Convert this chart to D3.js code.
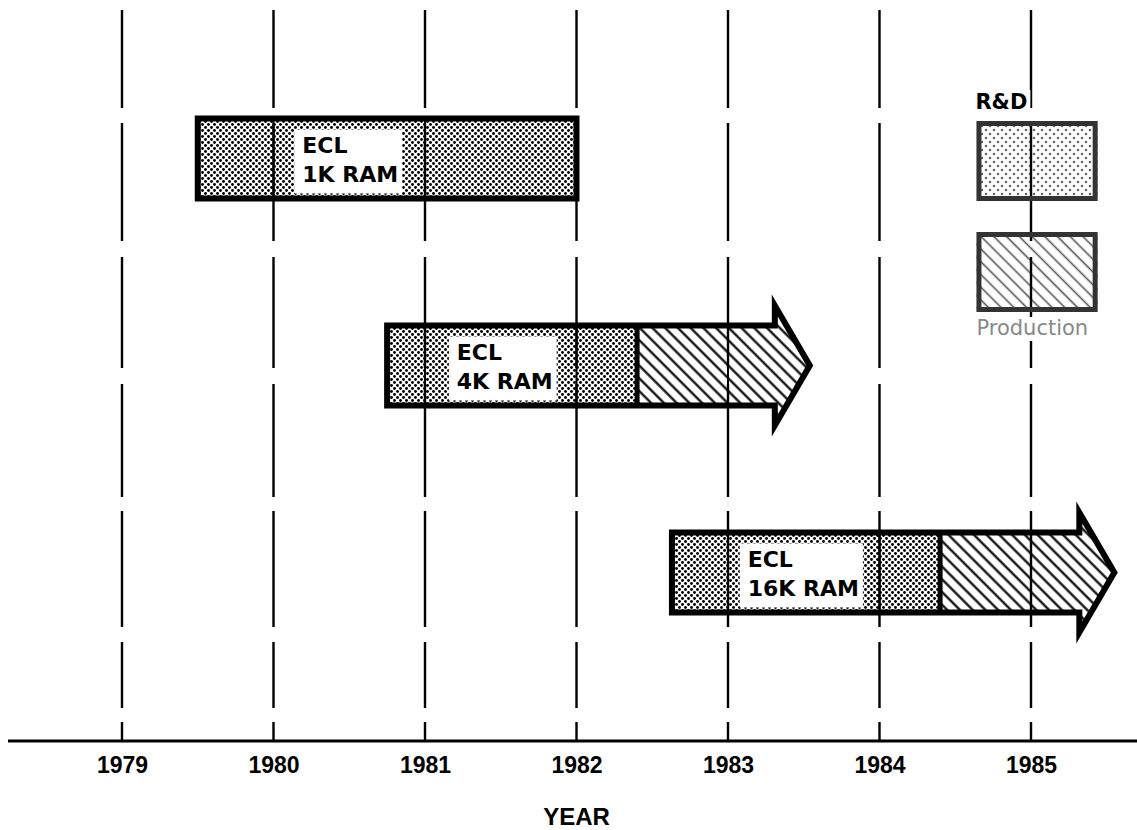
<!DOCTYPE html>
<html>
<head>
<meta charset="utf-8">
<script src="https://cdn.jsdelivr.net/npm/d3@7"></script>
<style>
  html, body { margin: 0; padding: 0; background: #fff; }
  svg { display: block; }
</style>
</head>
<body>
<svg id="chart" width="1137" height="830"></svg>
<script>
// ---- data ----
const years = [1979, 1980, 1981, 1982, 1983, 1984, 1985];
const chipRows = ["1K", "4K", "16K"];
const labelLine1 = ["ECL", "ECL", "ECL"];
const labelLine2 = ["1K RAM", "4K RAM", "16K RAM"];
const rdStart = [1979.5, 1980.75, 1982.63];
const rdEnd = [1982.0, 1982.4, 1984.4];
const prodEnd = [null, 1983.54, 1985.55];
const labelAt = [1980.19, 1981.21, 1983.13];
const legendItems = ["R&D", "Production"];
const axisTitle = "YEAR";

// ---- layout ----
const W = 1137, H = 830;
const axisY = 741;
const svg = d3.select("#chart");
const x = d3.scaleLinear().domain([1979, 1985]).range([122, 1031]);
const y = d3.scalePoint().domain(chipRows).range([158.5, 572.5]);
const barH = 80, headLen = 35, headOver = 20;

// ---- patterns ----
const defs = svg.append("defs");
const stip = defs.append("pattern").attr("id", "stip").attr("patternUnits", "userSpaceOnUse")
  .attr("width", 6).attr("height", 6);
stip.append("rect").attr("width", 6).attr("height", 6).attr("fill", "#fff");
stip.append("circle").attr("cx", 1.5).attr("cy", 1.5).attr("r", 1.45).attr("fill", "#000");
stip.append("circle").attr("cx", 4.5).attr("cy", 4.5).attr("r", 1.45).attr("fill", "#000");

const hatch = defs.append("pattern").attr("id", "hatch").attr("patternUnits", "userSpaceOnUse")
  .attr("width", 9).attr("height", 9).attr("patternTransform", "rotate(-45)");
hatch.append("rect").attr("width", 9).attr("height", 9).attr("fill", "#fff");
hatch.append("line").attr("x1", 4.5).attr("y1", -1).attr("x2", 4.5).attr("y2", 10)
  .attr("stroke", "#000").attr("stroke-width", 2.2);

const stipL = defs.append("pattern").attr("id", "stipL").attr("patternUnits", "userSpaceOnUse")
  .attr("width", 8).attr("height", 8);
stipL.append("rect").attr("width", 8).attr("height", 8).attr("fill", "#fff");
stipL.append("circle").attr("cx", 2).attr("cy", 2).attr("r", 1.3).attr("fill", "#666");
stipL.append("circle").attr("cx", 6).attr("cy", 6).attr("r", 1.3).attr("fill", "#666");

const hatchL = defs.append("pattern").attr("id", "hatchL").attr("patternUnits", "userSpaceOnUse")
  .attr("width", 9).attr("height", 9).attr("patternTransform", "rotate(-45)");
hatchL.append("rect").attr("width", 9).attr("height", 9).attr("fill", "#fff");
hatchL.append("line").attr("x1", 4.5).attr("y1", -1).attr("x2", 4.5).attr("y2", 10)
  .attr("stroke", "#555").attr("stroke-width", 1.6);

// ---- bars (fills) ----
const rows = chipRows.map((c, i) => ({
  key: c, s: rdStart[i], d: rdEnd[i], e: prodEnd[i],
  l1: labelLine1[i], l2: labelLine2[i], la: labelAt[i]
}));

function outline(r) {
  const cy = y(r.key), t = cy - barH / 2, b = cy + barH / 2;
  const x0 = x(r.s);
  if (r.e == null) {
    const x1 = x(r.d);
    return `M${x0},${t}L${x1},${t}L${x1},${b}L${x0},${b}Z`;
  }
  const xt = x(r.e), xh = xt - headLen;
  return `M${x0},${t}L${xh},${t}L${xh},${t - headOver}L${xt},${cy}L${xh},${b + headOver}L${xh},${b}L${x0},${b}Z`;
}
function prodShape(r) {
  const cy = y(r.key), t = cy - barH / 2, b = cy + barH / 2;
  const xd = x(r.d), xt = x(r.e), xh = xt - headLen;
  return `M${xd},${t}L${xh},${t}L${xh},${t - headOver}L${xt},${cy}L${xh},${b + headOver}L${xh},${b}L${xd},${b}Z`;
}

const gBars = svg.append("g");
gBars.selectAll("rect.rd").data(rows).join("rect").attr("class", "rd")
  .attr("x", r => x(r.s)).attr("y", r => y(r.key) - barH / 2)
  .attr("width", r => x(r.d) - x(r.s)).attr("height", barH)
  .attr("fill", "url(#stip)");
gBars.selectAll("path.prod").data(rows.filter(r => r.e != null)).join("path").attr("class", "prod")
  .attr("d", prodShape).attr("fill", "url(#hatch)");

// ---- legend boxes ----
const legX0 = 1984.64, legX1 = 1985.44;
const legBoxes = [{ t: 121, fill: "url(#stipL)" }, { t: 232, fill: "url(#hatchL)" }];
svg.append("g").selectAll("rect").data(legBoxes).join("rect")
  .attr("x", x(legX0)).attr("y", d => d.t + 2.5)
  .attr("width", x(legX1) - x(legX0)).attr("height", 75)
  .attr("fill", d => d.fill);

// ---- vertical grid lines (dashed, irregular breaks) ----
const dash = "98,15,118,16,111,16,113,14,116,15,66,14,19";
svg.append("g").selectAll("line").data(years).join("line")
  .attr("x1", d => x(d)).attr("x2", d => x(d))
  .attr("y1", 10).attr("y2", axisY)
  .attr("stroke", "#000").attr("stroke-width", 2.4)
  .attr("stroke-dasharray", dash);

// solid grid segments through the bars
const segs = [];
rows.forEach(r => {
  const end = r.e == null ? r.d : r.e;
  years.forEach(yr => { if (yr > r.s && yr < end) segs.push({ yr, key: r.key }); });
});
svg.append("g").selectAll("line").data(segs).join("line")
  .attr("x1", d => x(d.yr)).attr("x2", d => x(d.yr))
  .attr("y1", d => y(d.key) - barH / 2).attr("y2", d => y(d.key) + barH / 2)
  .attr("stroke", "#000").attr("stroke-width", 2);

// ---- bar outlines ----
svg.append("g").selectAll("path").data(rows).join("path")
  .attr("d", outline).attr("fill", "none")
  .attr("stroke", "#000").attr("stroke-width", 6).attr("stroke-linejoin", "miter");
svg.append("g").selectAll("line").data(rows.filter(r => r.e != null)).join("line")
  .attr("x1", r => x(r.d)).attr("x2", r => x(r.d))
  .attr("y1", r => y(r.key) - barH / 2).attr("y2", r => y(r.key) + barH / 2)
  .attr("stroke", "#000").attr("stroke-width", 5);

// ---- labels inside bars ----
const gLab = svg.append("g").attr("font-family", "'DejaVu Sans', sans-serif")
  .attr("font-weight", "bold").attr("font-size", 22).attr("fill", "#000");
rows.forEach(r => {
  const cy = y(r.key), tx = x(r.la);
  const grp = gLab.append("g");
  const bg = grp.append("rect").attr("fill", "#fff");
  const t1 = grp.append("text").attr("x", tx).attr("y", cy - 6).text(r.l1);
  const t2 = grp.append("text").attr("x", tx).attr("y", cy + 23).text(r.l2);
  const w = Math.max(t1.node().getComputedTextLength(), t2.node().getComputedTextLength());
  bg.attr("x", tx - 8).attr("y", cy - 29).attr("width", w + 12).attr("height", 64);
});

// ---- legend outlines and text ----
svg.append("g").selectAll("rect").data(legBoxes).join("rect")
  .attr("x", x(legX0) + 2.5).attr("y", d => d.t + 2.5)
  .attr("width", x(legX1) - x(legX0) - 5).attr("height", 75)
  .attr("fill", "none").attr("stroke", "#333").attr("stroke-width", 5);
const rdBg = svg.append("rect").attr("fill", "#fff");
const rdTxt = svg.append("text").attr("x", x(legX0) - 1).attr("y", 109)
  .attr("font-family", "'DejaVu Sans', sans-serif").attr("font-weight", "bold")
  .attr("font-size", 21).attr("fill", "#000").text(legendItems[0]);
const rb = rdTxt.node().getBBox();
rdBg.attr("x", rb.x).attr("y", rb.y).attr("width", rb.width + 3).attr("height", rb.height);
const prodBg = svg.append("rect").attr("fill", "#fff");
const prodTxt = svg.append("text").attr("x", x(legX0)).attr("y", 335)
  .attr("font-family", "'DejaVu Sans', sans-serif")
  .attr("font-size", 21).attr("fill", "#888").text(legendItems[1]);
const pb = prodTxt.node().getBBox();
prodBg.attr("x", pb.x).attr("y", 317).attr("width", pb.width).attr("height", pb.height);

// ---- x axis ----
svg.append("line").attr("x1", 8).attr("x2", W).attr("y1", axisY).attr("y2", axisY)
  .attr("stroke", "#000").attr("stroke-width", 3);
const ax = svg.append("g").attr("transform", `translate(0,${axisY})`)
  .call(d3.axisBottom(x).tickValues(years).tickFormat(d3.format("d")).tickSize(0).tickPadding(16));
ax.select(".domain").remove();
ax.selectAll("text").attr("font-family", "'Liberation Sans', Arial, sans-serif")
  .attr("font-weight", "bold").attr("font-size", 23).attr("fill", "#000");
ax.attr("font-size", null).attr("font-family", null);

svg.append("text").attr("x", x(1982)).attr("y", 825).attr("text-anchor", "middle")
  .attr("font-family", "'Liberation Sans', Arial, sans-serif").attr("font-weight", "bold")
  .attr("font-size", 24).attr("fill", "#000").text(axisTitle);
</script>
</body>
</html>
